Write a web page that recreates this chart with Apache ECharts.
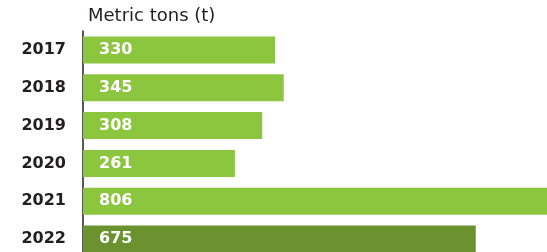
<!DOCTYPE html>
<html>
<head>
<meta charset="utf-8">
<script src="https://cdn.jsdelivr.net/npm/echarts@6/dist/echarts.min.js"></script>
<style>html,body{margin:0;padding:0;background:#fff}#c{width:547px;height:252px}</style>
</head>
<body>
<div id="c"></div>
<script>
const years = ['2017', '2018', '2019', '2020', '2021', '2022'];
const tons = [330, 345, 308, 261, 806, 675];
const unitTitle = 'Metric tons (t)';

const chart = echarts.init(document.getElementById('c'), null, {renderer: 'canvas'});
const font = '"DejaVu Sans", sans-serif';
chart.setOption({
  animation: false,
  title: {
    text: unitTitle, left: 83, top: 2,
    textStyle: {fontFamily: font, fontSize: 18, fontWeight: 'normal', color: '#231f20'}
  },
  grid: {left: 83, top: 31, width: 469, height: 227, outerBoundsMode: 'none', containLabel: false},
  xAxis: {
    type: 'value', min: 0, max: 806, show: false
  },
  yAxis: {
    type: 'category', data: years, inverse: true,
    axisLine: {show: true, lineStyle: {color: '#231f20', width: 1.5}},
    axisTick: {show: false},
    axisLabel: {margin: 17, fontFamily: font, fontSize: 16, fontWeight: 'bold', color: '#231f20'}
  },
  series: [{
    type: 'bar', barWidth: 27,
    data: tons.map((v, i) => ({value: v, itemStyle: {color: i === tons.length - 1 ? '#6a9330' : '#8cc63f'}})),
    label: {
      show: true, position: 'insideLeft', distance: 16,
      fontFamily: font, fontSize: 16, fontWeight: 'bold', color: '#ffffff'
    }
  }]
});
</script>
</body>
</html>
